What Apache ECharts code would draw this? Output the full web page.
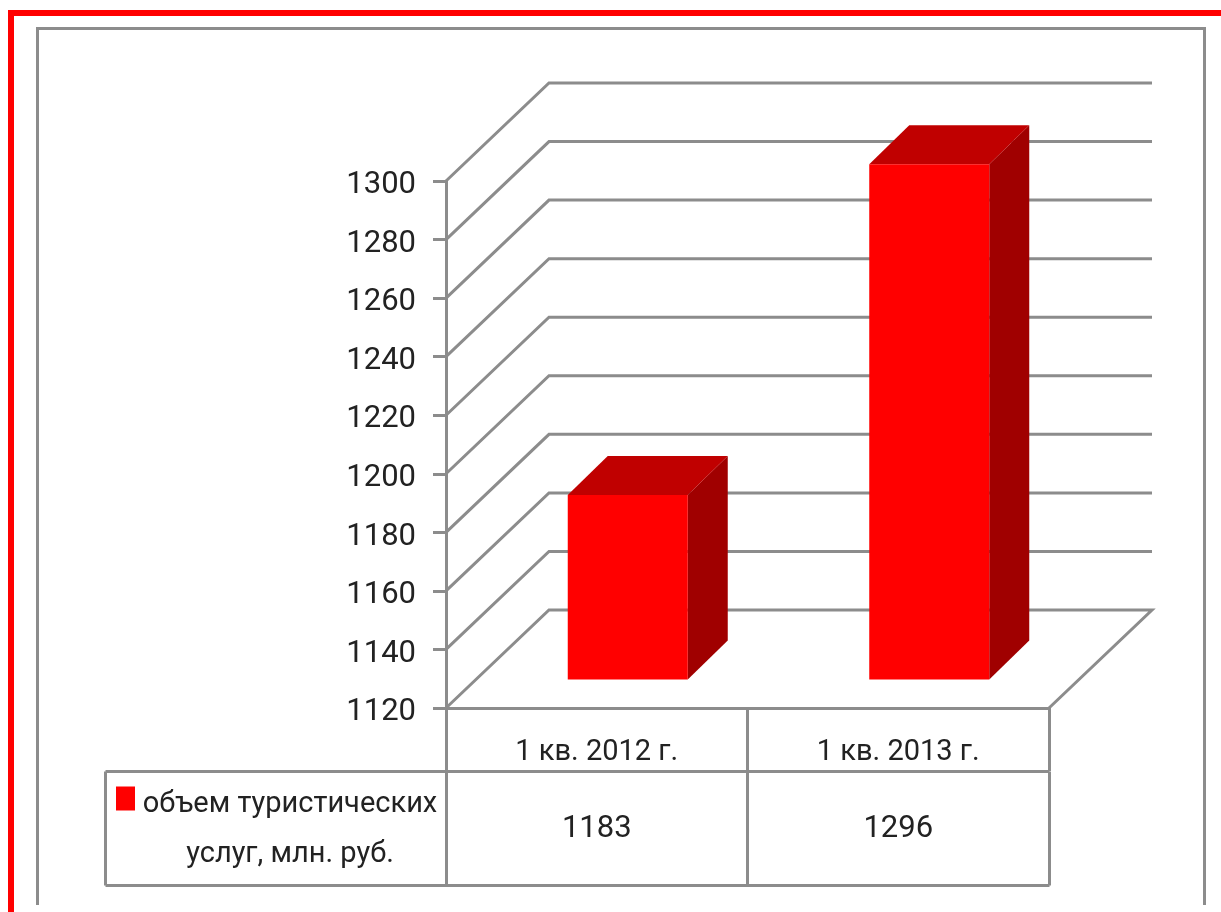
<!DOCTYPE html>
<html>
<head>
<meta charset="utf-8">
<style>html,body{margin:0;padding:0;background:#fff}#c{width:1221px;height:912px;filter:blur(0.5px)}</style>
<script src="https://cdn.jsdelivr.net/npm/echarts@6/dist/echarts.min.js"></script>
</head>
<body>
<div id="c"></div>
<script>
const categories = ['1 кв. 2012 г.', '1 кв. 2013 г.'];
const seriesName = 'объем туристических услуг, млн. руб.';
const values = [1183, 1296];
const gridTicks = [1120, 1140, 1160, 1180, 1200, 1220, 1240, 1260, 1280, 1300];

const FONT = 'Roboto,"Liberation Sans",sans-serif';
const TEXT = '#222';
const LINE = '#8c8c8c';
const FS = 31;      // numbers
const FS_TEXT = 29; // words
const WALL = [103, -98];   // perspective depth of the back wall
const BAR_OFF = [31, -28.5]; // front plane of the bars within that depth
const BAR_D = [40, -39];   // bar depth
const BAR_W = 120;

const chart = echarts.init(document.getElementById('c'), null, {renderer: 'canvas'});
const seg = (x1, y1, x2, y2) => ({type: 'line', silent: true, shape: {x1, y1, x2, y2}, style: {stroke: LINE, lineWidth: 3}});
const block = (x, y, w, h, color) => ({type: 'rect', silent: true, shape: {x, y, width: w, height: h}, style: {fill: color}});

chart.setOption({
  animation: false,
  backgroundColor: '#fff',
  grid: {left: 446, top: 181, width: 603, height: 527},
  xAxis: {
    type: 'category', data: categories, boundaryGap: true,
    axisLine: {lineStyle: {color: LINE, width: 3}},
    axisTick: {show: true, length: 63, inside: false, lineStyle: {color: LINE, width: 3}},
    axisLabel: {margin: 30, fontFamily: FONT, fontSize: FS_TEXT, color: TEXT}
  },
  yAxis: {
    type: 'value', min: 1120, max: 1300, interval: 20,
    splitLine: {show: false},
    axisLine: {show: true, lineStyle: {color: LINE, width: 3}},
    axisTick: {show: true, length: 13, lineStyle: {color: LINE, width: 3}},
    axisLabel: {
      margin: 30, fontFamily: FONT, fontSize: FS, color: TEXT,
      formatter: v => '{n|' + v + '}',
      rich: {n: {fontFamily: FONT, fontSize: FS, color: TEXT, padding: [9, 0, 0, 0]}}
    }
  },
  legend: {
    left: 116, top: 734, padding: 0, itemWidth: 19, itemHeight: 24, icon: 'rect', itemGap: 0,
    selectedMode: false,
    data: [seriesName],
    formatter: () => '{b| }\n{a|объем туристических}\n{a|услуг, млн. руб.}',
    textStyle: {
      fontFamily: FONT, fontSize: FS_TEXT, color: TEXT,
      rich: {
        a: {fontFamily: FONT, fontSize: FS_TEXT, color: TEXT, width: 300, align: 'center', lineHeight: 50},
        b: {fontSize: FS_TEXT, lineHeight: 63}
      }
    }
  },
  graphic: [
    block(8, 10, 6, 902, '#ff0000'),
    block(8, 10, 1213, 6, '#ff0000'),
    block(36, 27, 3, 878, '#8c8c8c'),
    block(36, 27, 1169, 3, '#8c8c8c'),
    block(1203, 27, 3, 878, '#8c8c8c'),
    seg(105.5, 771.5, 1049.5, 771.5),
    seg(105.5, 885.5, 1049.5, 885.5),
    seg(105.5, 771.5, 105.5, 885.5),
    seg(446.5, 708, 446.5, 885.5),
    seg(747.5, 771.5, 747.5, 885.5),
    seg(1049.5, 771.5, 1049.5, 885.5)
  ],
  series: [
    {
      name: 'wall', type: 'custom', coordinateSystem: 'cartesian2d', silent: true, z: 1,
      data: gridTicks.map(v => [0, v]),
      renderItem(params, api) {
        const g = params.coordSys;
        const y = api.coord([0, api.value(1)])[1];
        const l = [g.x, y], b = [g.x + WALL[0], y + WALL[1]], r = [g.x + g.width + WALL[0], y + WALL[1]];
        const pts = api.value(1) === gridTicks[0] ? [l, b, r, [g.x + g.width, y]] : [l, b, r];
        return {type: 'polyline', shape: {points: pts}, style: {stroke: LINE, lineWidth: 3, fill: 'none'}};
      }
    },
    {
      name: seriesName, type: 'custom', coordinateSystem: 'cartesian2d', silent: true, z: 3,
      itemStyle: {color: '#ff0000'},
      encode: {x: 0, y: 1},
      data: values.map((v, i) => [i, v]),
      renderItem(params, api) {
        const p = api.coord([api.value(0), api.value(1)]);
        const base = api.coord([api.value(0), 1120]);
        const x0 = p[0] + BAR_OFF[0] - BAR_W / 2, x1 = x0 + BAR_W;
        const top = p[1] + BAR_OFF[1], bot = base[1] + BAR_OFF[1];
        const dx = BAR_D[0], dy = BAR_D[1];
        return {type: 'group', children: [
          {type: 'polygon', shape: {points: [[x1, top], [x1 + dx, top + dy], [x1 + dx, bot + dy], [x1, bot]]}, style: {fill: '#a00000'}},
          {type: 'polygon', shape: {points: [[x0, top], [x0 + dx, top + dy], [x1 + dx, top + dy], [x1, top]]}, style: {fill: '#c00000'}},
          {type: 'rect', shape: {x: x0, y: top, width: BAR_W, height: bot - top}, style: {fill: '#ff0000'}},
          {type: 'text', style: {text: String(api.value(1)), x: p[0], y: 829, align: 'center', verticalAlign: 'middle', font: FS + 'px ' + FONT, fill: TEXT}}
        ]};
      }
    }
  ]
});
</script>
</body>
</html>
